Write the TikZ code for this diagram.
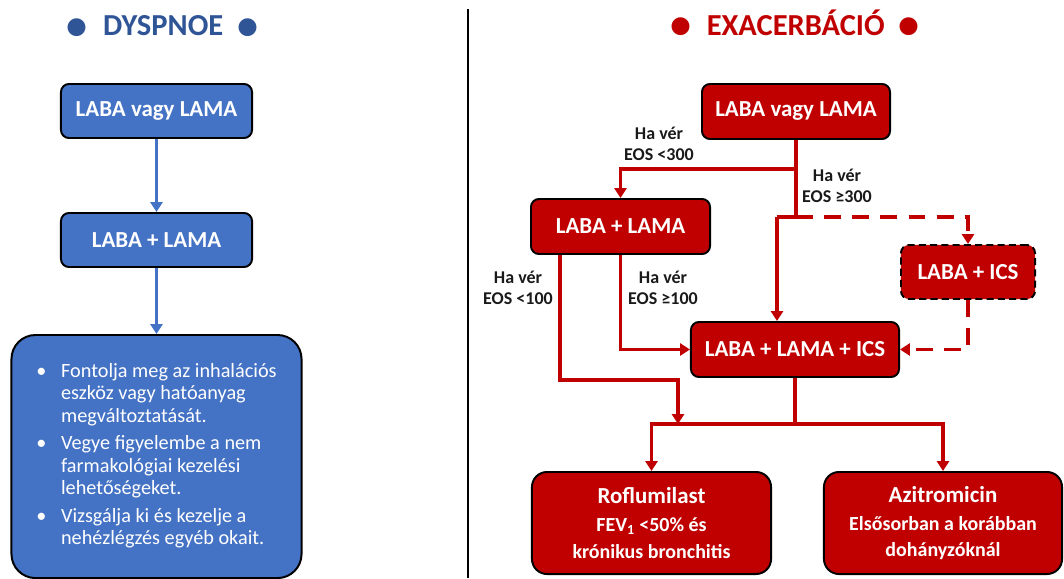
\documentclass[tikz,border=0pt]{standalone}
\usepackage{fontspec}
\setmainfont{Carlito}
\usepackage{xcolor}
\usepackage{tikz}
\usetikzlibrary{shapes.geometric,arrows.meta,positioning,calc}
\definecolor{SlideBlue}{HTML}{4472C4}
\definecolor{TitleBlue}{HTML}{2F5597}
\definecolor{SlideRed}{HTML}{C00000}
\definecolor{LabelInk}{HTML}{1A1A1A}
\newcommand{\tdot}{\raisebox{-0.11em}{\fontsize{30}{30}\selectfont\textbullet}}
\newcommand{\subfont}{\fontsize{14.2}{17}\selectfont}
\tikzset{
  BX/.style={rectangle,rounded corners=0.2cm,
             minimum width=4.775cm,minimum height=1.35cm,
             text centered,align=center,draw=black,line width=1.4pt,
             inner sep=0pt,text=white,
             font=\fontsize{16.3}{19}\selectfont\bfseries},
  nB/.style={BX,fill=SlideBlue},
  nR/.style={BX,fill=SlideRed},
  nRd/.style={nR,dash pattern=on 5pt off 3pt},
  TT/.style={anchor=base,font=\fontsize{21.7}{25}\selectfont\bfseries},
  LB/.style={font=\fontsize{12.8}{15}\selectfont\bfseries,text=LabelInk,align=center},
  arr/.style={-{Triangle[length=7pt,width=8.5pt]},line width=2.5pt},
  bArr/.style={arr,draw=SlideBlue},
  rArr/.style={arr,draw=SlideRed},
  rLn/.style={line width=2.5pt,draw=SlideRed},
  dsh/.style={dash pattern=on 12pt off 8pt}
}

\begin{document}
\begin{tikzpicture}[x=0.025cm,y=-0.025cm]
  \useasboundingbox (0,0) rectangle (1064,578);

  % left half
  \node[TT,text=TitleBlue] (tL) at (162.5,36) {\tdot\hspace{11pt}DYSPNOE\hspace{10pt}\tdot};
  \node[nB] (lb1) at (156.5,111) {LABA vagy LAMA};
  \node[nB,below=1.825cm of lb1] (lb2) {LABA + LAMA};
  \node[nB,below=1.65cm of lb2,minimum width=7.25cm,minimum height=6.075cm,
        rounded corners=0.6cm,font=\fontsize{14.4}{16}\selectfont] (lb3)
    {\begin{tabular}{@{}p{0.62cm}@{}l@{}}
      \textbullet & Fontolja meg az inhalációs\\
                  & eszköz vagy hatóanyag\\
                  & megváltoztatását.\\[3.5pt]
      \textbullet & Vegye figyelembe a nem\\
                  & farmakológiai kezelési\\
                  & lehetőségeket.\\[3.5pt]
      \textbullet & Vizsgálja ki és kezelje a\\
                  & nehézlégzés egyéb okait.
     \end{tabular}};

  \draw[bArr](lb1)--(lb2);
  \draw[bArr](lb2)--(lb3);

  \draw[line width=2pt](468,9)--(468,578);

  % right half
  \node[TT,text=SlideRed] (tR) at (795,35.5) {\tdot\hspace{11pt}EXACERBÁCIÓ\hspace{10pt}\tdot};
  \node[nR,minimum width=4.7cm,minimum height=1.375cm] (r1) at (796,111.5) {LABA vagy LAMA};
  \node[nR,minimum width=4.475cm,minimum height=1.375cm] (r2) at (620.5,226.5) {LABA + LAMA};
  \node[nRd,minimum width=3.35cm] (ics) at (968,272) {LABA + ICS};
  \node[nR,minimum width=5.2cm,minimum height=1.375cm] (r3) at (795,349.5) {LABA + LAMA + ICS};
  \node[nR,minimum width=5.975cm,minimum height=2.55cm,rounded corners=0.375cm] (r4) at (651.5,523)
    {Roflumilast\\[1pt]{\subfont FEV\textsubscript{1} <50\% és}\\{\subfont krónikus bronchitis}};
  \node[nR,minimum width=5.95cm,minimum height=2.55cm,rounded corners=0.375cm] (r5) at (943,523)
    {Azitromicin\\[1pt]{\subfont Elsősorban a korábban}\\{\subfont dohányzóknál}};

  \node[LB] (q1) at (659,144) {Ha vér\\EOS <300};
  \node[LB] (q2) at (837,186) {Ha vér\\EOS ≥300};
  \node[LB] (q3) at (518,288) {Ha vér\\EOS <100};
  \node[LB] (q4) at (663,288) {Ha vér\\EOS ≥100};

  \coordinate (j1) at (796,169);
  \coordinate (j2) at (796,217);
  \coordinate (j3) at (777,217);
  \coordinate (e1) at (560,380);
  \coordinate (e2) at (678,380);
  \coordinate (bj) at (795,424);

  \draw[rArr](r1.south)--(j1)-|(r2.north);
  \draw[rLn](j1)--(j2)--(j3);
  \draw[rArr](j3)--(j3|-r3.north);
  \draw[rArr,dsh](j2)-|(ics.north);
  \draw[rArr,dsh](ics.south)|-(r3.east);
  \draw[rArr](r2.south)|-(r3.west);
  \draw[rArr](e1|-r2.south)--(e1)--(e2)--(e2|-bj);
  \draw[rLn](r3.south)--(bj);
  \draw[rArr](bj)-|(r4.north);
  \draw[rArr](bj)-|(r5.north);
\end{tikzpicture}
\end{document}
